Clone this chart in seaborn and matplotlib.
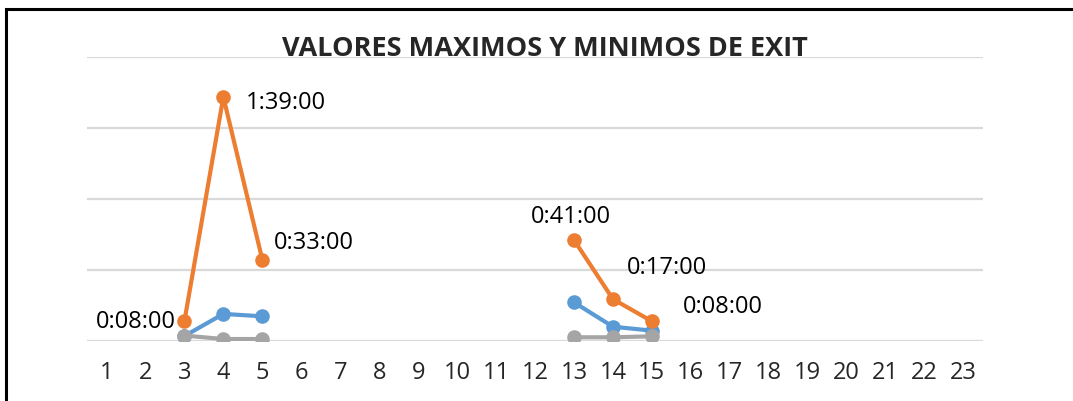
import numpy as np
import pandas as pd
import matplotlib.pyplot as plt
import seaborn as sns
from matplotlib.patches import Rectangle

# data (minutes), categories 1..23, values only at 3-5 and 13-15
categories = list(range(1, 24))
days_a = [3, 4, 5]
days_b = [13, 14, 15]
promedio_a = [2.0, 11.0, 10.0]
promedio_b = [15.7, 5.8, 4.2]
maximo_a = [8, 99, 33]
maximo_b = [41, 17, 8]
minimo_a = [2.2, 0.8, 0.8]
minimo_b = [1.5, 1.5, 1.9]

rows = []
for name, a, b in [('PROMEDIO', promedio_a, promedio_b),
                   ('MAXIMO', maximo_a, maximo_b),
                   ('MINIMO', minimo_a, minimo_b)]:
    for x, v in zip(days_a, a):
        rows.append({'dia': x, 'minutos': v, 'serie': name, 'tramo': 'a'})
    for x, v in zip(days_b, b):
        rows.append({'dia': x, 'minutos': v, 'serie': name, 'tramo': 'b'})
df = pd.DataFrame(rows)

palette = {'PROMEDIO': '#5B9BD5', 'MAXIMO': '#ED7D31', 'MINIMO': '#A5A5A5'}

sns.set_style('white')
plt.rcParams['font.family'] = ['Open Sans', 'DejaVu Sans']

fig = plt.figure(figsize=(10.73, 4.02), dpi=100)
ax = fig.add_axes([87 / 1073, 1 - 342 / 402, 896 / 1073, 284 / 402])

sns.lineplot(data=df, x='dia', y='minutos', hue='serie', units='tramo',
             estimator=None, palette=palette, marker='o', markersize=10.5,
             markeredgewidth=0, linewidth=3, legend=False, ax=ax, zorder=3)

ax.set_xlim(0.5, 23.5)
ax.set_ylim(0, 115.2)
ax.set_xticks(categories)
ax.set_xticklabels([str(c) for c in categories], fontsize=17)
ax.set_yticks(np.arange(0, 115.3, 28.8))
ax.set_yticklabels([])
ax.tick_params(axis='both', length=0, pad=14)
ax.grid(axis='y', color='#D9D9D9', linewidth=1.6)
ax.grid(axis='x', visible=False)
for s in ax.spines.values():
    s.set_visible(False)
ax.set_xlabel('')
ax.set_ylabel('')


def fmt(m):
    return f"{int(m // 60)}:{int(m % 60):02d}:00"


# label offsets in points (manual placement like the original)
offsets_a = [(-6, 0, 'right', 'center'), (16, -4, 'left', 'center'), (8, 13, 'left', 'center')]
offsets_b = [(-2, 17, 'center', 'center'), (10, 23, 'left', 'center'), (22, 11, 'left', 'center')]
for xs, vs, offs in [(days_a, maximo_a, offsets_a), (days_b, maximo_b, offsets_b)]:
    for x, v, (dx, dy, ha, va) in zip(xs, vs, offs):
        ax.annotate(fmt(v), (x, v), xytext=(dx, dy), textcoords='offset points',
                    ha=ha, va=va, fontsize=17, color='black')

fig.text(545 / 1073, 1 - 49 / 402, 'VALORES MAXIMOS Y MINIMOS DE EXIT',
         ha='center', va='center', fontsize=19.5, fontweight='bold')

# chart frame
fig.patches.append(Rectangle((5.5 / 1073, -0.2), 1.2, 1.2 - 9.5 / 402,
                             transform=fig.transFigure, fill=False,
                             edgecolor='black', linewidth=2.2))

fig.savefig('out.png', dpi=100)
